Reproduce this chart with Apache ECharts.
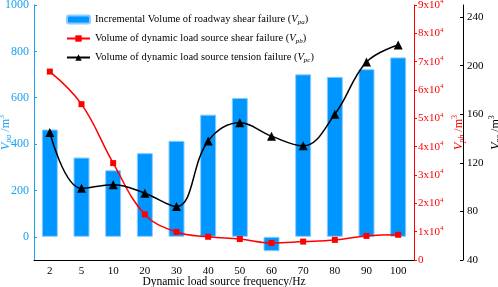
<!DOCTYPE html>
<html>
<head>
<meta charset="utf-8">
<script src="https://cdn.jsdelivr.net/npm/echarts@6/dist/echarts.min.js"></script>
<style>
  html, body { margin: 0; padding: 0; background: #fff; }
  #chart { width: 498px; height: 287px; }
</style>
</head>
<body>
<div id="chart"></div>
<script>
const freqs = ['2', '5', '10', '20', '30', '40', '50', '60', '70', '80', '90', '100']
const vpa = [463, 342, 287, 361, 414, 527, 599, -62, 701, 690, 723, 774]
const vpb = [66500, 55000, 34200, 16100, 9900, 8200, 7400, 6000, 6500, 7100, 8500, 8900]
const vpc = [145, 99, 102, 95, 84, 138, 153, 142, 134, 160, 203, 217]
const vpaTicks = [0, 200, 400, 600, 800, 1000]

const font = 'Liberation Serif'
const blue = '#0096ff'
const blueText = '#1aa3f0'
const red = '#ff0000'

const names = [
  'Incremental Volume of roadway shear failure',
  'Volume of dynamic load source shear failure',
  'Volume of dynamic load source tension failure'
]
const subs = ['pa', 'pb', 'pc']

// sub/superscripts: small tokens pushed to the bottom/top of the line box
const richText = (size, color, lh) => {
  const small = Math.round(size * 0.65)
  return {
    n: { fontFamily: font, fontSize: size, lineHeight: lh, color },
    i: { fontFamily: font, fontSize: size, lineHeight: lh, fontStyle: 'italic', color },
    s: { fontFamily: font, fontSize: small, lineHeight: small, fontStyle: 'italic', color, verticalAlign: 'bottom' },
    p: { fontFamily: font, fontSize: small, lineHeight: small, color, verticalAlign: 'top' }
  }
}

const option = {
  animation: false,
  grid: { left: 34, right: 84, top: 5, bottom: 27, outerBoundsMode: 'none', containLabel: false },
  legend: {
    orient: 'vertical',
    left: 61,
    top: 8,
    itemWidth: 23,
    itemHeight: 8,
    itemGap: 6,
    itemTextGap: 2,
    data: names,
    formatter: name => {
      const k = names.indexOf(name)
      return `{n|${name} (}{i|V}{s|${subs[k]}}{n|)}`
    },
    textStyle: { fontFamily: font, fontSize: 10.5, color: '#000', lineHeight: 13, rich: richText(10.5, '#000', 13) }
  },
  xAxis: {
    type: 'category',
    data: freqs,
    name: 'Dynamic load source frequency/Hz',
    nameLocation: 'middle',
    nameGap: 16,
    nameMoveOverlap: false,
    nameTextStyle: { fontFamily: font, fontSize: 11.5, color: '#000' },
    axisLine: { onZero: false, lineStyle: { color: '#000', width: 1 } },
    axisTick: { alignWithLabel: true, inside: true, length: 3 },
    axisLabel: { fontFamily: font, fontSize: 11, color: '#000', margin: 6 }
  },
  yAxis: [
    {
      type: 'value',
      min: -100,
      max: 1000,
      position: 'left',
      name: '{i|V}{s|pa}{n| /m}{p|3}',
      nameLocation: 'middle',
      nameRotate: 90,
      nameGap: 21,
      nameMoveOverlap: false,
      nameTextStyle: { lineHeight: 15, rich: richText(12, blueText, 15) },
      axisLine: { show: true, lineStyle: { color: blueText, width: 1 } },
      axisTick: { show: true, inside: true, length: 3, customValues: vpaTicks },
      axisLabel: { fontFamily: font, fontSize: 12, color: blueText, margin: 5, customValues: vpaTicks, formatter: v => String(v) },
      splitLine: { show: false }
    },
    {
      type: 'value',
      min: 0,
      max: 90000,
      interval: 10000,
      position: 'right',
      name: '{i|V}{s|pb}{n| /m}{p|3}',
      nameLocation: 'middle',
      nameRotate: 90,
      nameGap: 37,
      nameMoveOverlap: false,
      nameTextStyle: { lineHeight: 15, rich: richText(12, red, 15) },
      axisLine: { show: true, lineStyle: { color: red, width: 1 } },
      axisTick: { show: true, inside: false, length: 3 },
      axisLabel: {
        margin: 4,
        lineHeight: 14,
        formatter: v => v === 0 ? '{n|0}' : `{n|${v / 10000}x10}{p|4}`,
        rich: richText(11, red, 14)
      },
      splitLine: { show: false }
    },
    {
      type: 'value',
      min: 40,
      max: 250,
      interval: 40,
      position: 'right',
      offset: 49,
      name: '{i|V}{s|pc}{n| /m}{p|3}',
      nameLocation: 'middle',
      nameRotate: 90,
      nameGap: 25,
      nameMoveOverlap: false,
      nameTextStyle: { lineHeight: 15, rich: richText(12, '#000', 15) },
      axisLine: { show: true, lineStyle: { color: '#000', width: 1 } },
      axisTick: { show: true, inside: true, length: 3 },
      axisLabel: { fontFamily: font, fontSize: 11, color: '#000', margin: 4, showMaxLabel: false },
      splitLine: { show: false }
    }
  ],
  series: [
    {
      name: names[0],
      type: 'bar',
      yAxisIndex: 0,
      data: vpa,
      barWidth: 16,
      itemStyle: { color: blue, borderColor: '#8ccaff', borderWidth: 1 }
    },
    {
      name: names[1],
      type: 'line',
      yAxisIndex: 1,
      data: vpb,
      smooth: 0.4,
      symbol: 'rect',
      symbolSize: 6,
      lineStyle: { color: red, width: 1.5 },
      itemStyle: { color: red }
    },
    {
      name: names[2],
      type: 'line',
      yAxisIndex: 2,
      data: vpc,
      smooth: 0.4,
      symbol: 'triangle',
      symbolSize: 9,
      lineStyle: { color: '#000', width: 1.5 },
      itemStyle: { color: '#000' }
    }
  ]
}

const chart = echarts.init(document.getElementById('chart'))
chart.setOption(option)
</script>
</body>
</html>
